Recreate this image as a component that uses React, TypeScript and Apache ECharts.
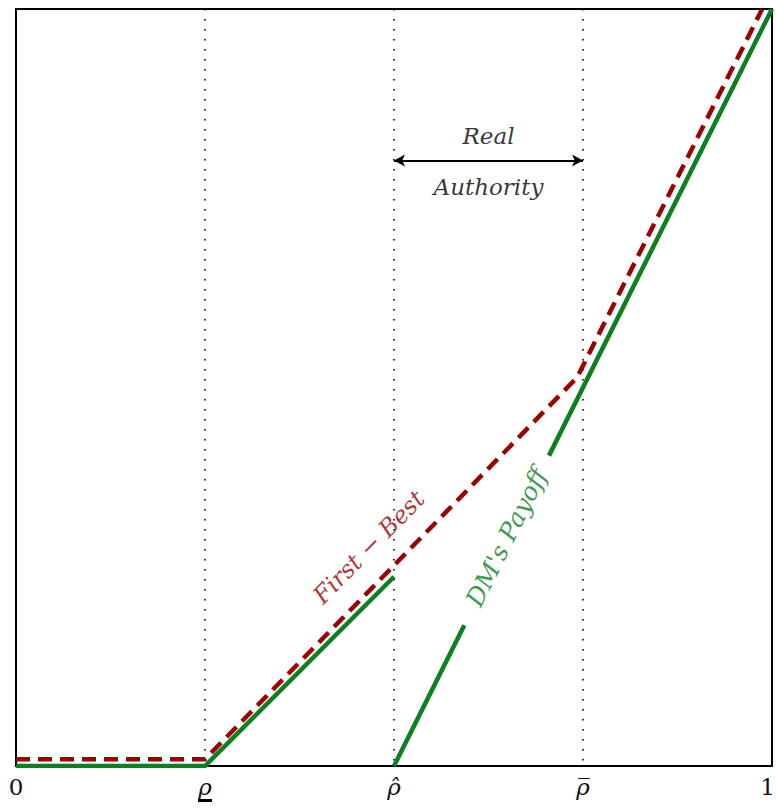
import React, { useEffect, useRef } from "react";
import * as echarts from "echarts";

// x tick positions and their labels
const tickValues = [0, 0.25, 0.5, 0.75, 1];
const tickLabels = ["0", "ρ", "ρ̂", "ρ̅", "1"];

// DM's payoff (green), split where the label sits
const payoffLow = [[0, 0], [0.25, 0], [0.5, 0.25]];
const payoffHighA = [[0.5, 0], [0.593, 0.186]];
const payoffHighB = [[0.705, 0.41], [1, 1]];

// First-best (red dashed)
const firstBest = [[0, 0.009], [0.25, 0.009], [0.5, 0.265], [0.742, 0.513], [0.987, 1.0]];

// Annotations
const realAuthorityArrow = [[0.5, 0.8], [0.75, 0.8]];
const realLabelPos = [0.625, 0.832];
const authorityLabelPos = [0.625, 0.765];
const firstBestLabelPos = [0.467, 0.289];
const payoffLabelPos = [0.649, 0.302];

const GREEN = "#0a8020";
const RED = "#9c0000";
const SERIF = "'DejaVu Serif', 'Liberation Serif', serif";

export default function App() {
  const ref = useRef<HTMLDivElement>(null);
  useEffect(() => {
    if (!ref.current) return;
    const chart = echarts.init(ref.current, undefined, { renderer: "svg" });
    const textSeries = (name: string, pos: number[], text: string, color: string, rotate: number, size: number) => ({
      type: "scatter",
      name,
      data: [pos],
      symbolSize: 0,
      silent: true,
      z: 5,
      label: {
        show: true,
        position: "inside",
        formatter: text,
        rotate,
        color,
        fontFamily: SERIF,
        fontStyle: "italic",
        fontSize: size,
        align: "center",
        verticalAlign: "middle",
      },
    });
    chart.setOption({
      animation: false,
      backgroundColor: "#fff",
      grid: {
        left: 16,
        right: 4,
        top: 9,
        bottom: 42,
        outerBoundsMode: "none",
        containLabel: false,
        show: true,
        borderColor: "#000",
        borderWidth: 2,
        backgroundColor: "transparent",
      },
      xAxis: {
        type: "value",
        min: 0,
        max: 1,
        interval: 0.25,
        axisLine: { show: false },
        axisTick: { show: false },
        splitLine: {
          show: true,
          lineStyle: { color: "#000", width: 1.6, type: [1.6, 8.4] },
        },
        axisLabel: {
          show: true,
          showMinLabel: true,
          showMaxLabel: true,
          margin: 9,
          color: "#111",
          fontFamily: SERIF,
          fontSize: 23,
          formatter: (v: number) => {
            const i = tickValues.findIndex((t) => Math.abs(t - v) < 1e-6);
            if (i < 0) return "";
            if (i === 0) return "{n|" + tickLabels[i] + "}";
            if (i === tickValues.length - 1) return "{last|" + tickLabels[i] + "}";
            if (i === 1) return "{g|" + tickLabels[i] + "}\n{bar| }";
            return "{g|" + tickLabels[i] + "}";
          },
          rich: {
            n: { fontFamily: SERIF, fontSize: 23, color: "#111" },
            last: { fontFamily: SERIF, fontSize: 23, color: "#111", padding: [0, 9, 0, 0] },
            g: { fontFamily: SERIF, fontSize: 23, fontStyle: "italic", color: "#111" },
            bar: {
              width: 14,
              height: 3,
              lineHeight: 5,
              fontSize: 2,
              backgroundColor: "#000",
            },
          },
        },
      },
      yAxis: {
        type: "value",
        min: 0,
        max: 1,
        axisLine: { show: false },
        axisTick: { show: false },
        axisLabel: { show: false },
        splitLine: { show: false },
      },
      series: [
        {
          type: "line",
          name: "payoffLow",
          data: payoffLow,
          symbol: "none",
          z: 3,
          lineStyle: { color: GREEN, width: 4.5 },
        },
        {
          type: "line",
          name: "payoffHighA",
          data: payoffHighA,
          symbol: "none",
          z: 3,
          lineStyle: { color: GREEN, width: 4.5 },
        },
        {
          type: "line",
          name: "payoffHighB",
          data: payoffHighB,
          symbol: "none",
          z: 3,
          lineStyle: { color: GREEN, width: 4.5 },
        },
        {
          type: "line",
          name: "firstBest",
          data: firstBest,
          symbol: "none",
          z: 4,
          lineStyle: { color: RED, width: 4.5, type: [14, 8] },
          markLine: {
            silent: true,
            symbol: ["arrow", "arrow"],
            symbolSize: [9, 11],
            label: { show: false },
            lineStyle: { color: "#000", width: 2, type: "solid" },
            data: [
              [
                { coord: realAuthorityArrow[0] },
                { coord: realAuthorityArrow[1] },
              ],
            ],
          },
        },
        textSeries("real", realLabelPos, "Real", "#000", 0, 23),
        textSeries("authority", authorityLabelPos, "Authority", "#000", 0, 23),
        textSeries("firstBestLabel", firstBestLabelPos, "First − Best", RED, 45.5, 24),
        textSeries("payoffLabel", payoffLabelPos, "DM's Payoff", GREEN, 63.4, 25),
      ],
    });
    return () => chart.dispose();
  }, []);
  return (
    <div
      ref={ref}
      style={{ position: "fixed", left: 0, top: 0, width: 776, height: 808 }}
    />
  );
}
